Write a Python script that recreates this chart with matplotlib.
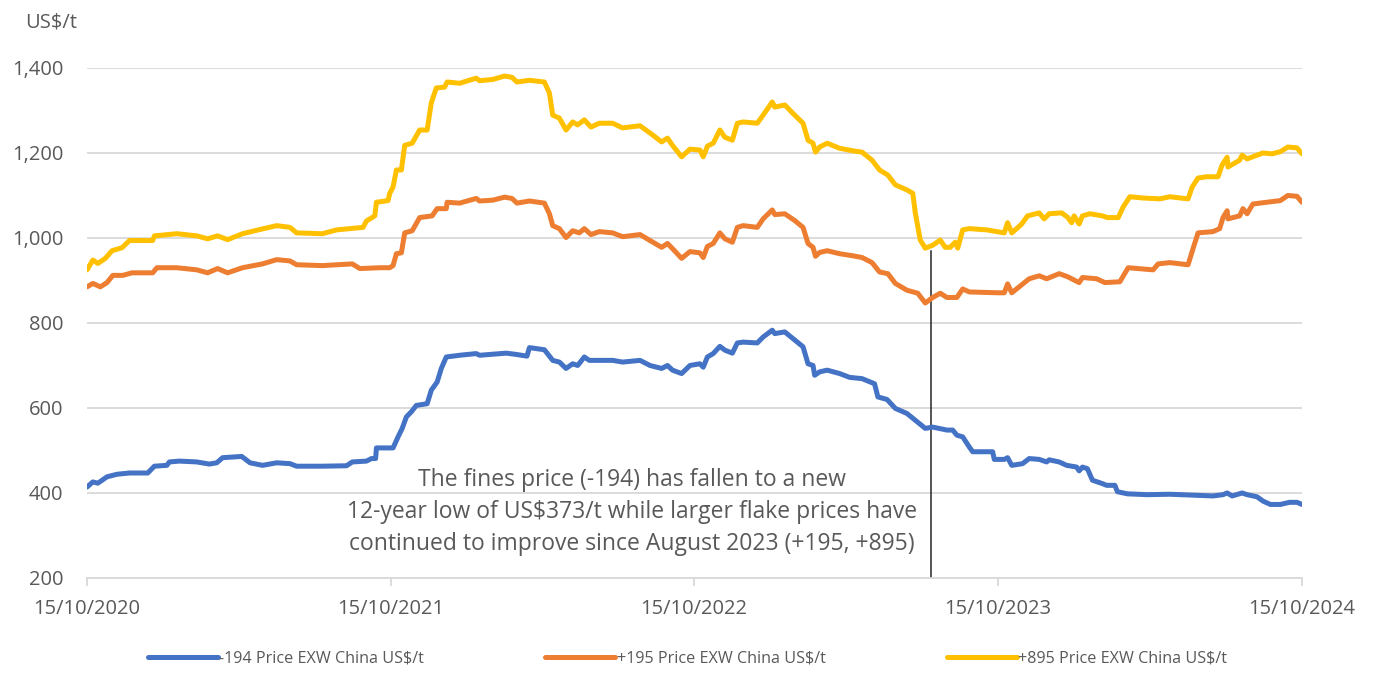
import pandas as pd
import matplotlib
matplotlib.use("Agg")
import matplotlib.pyplot as plt
import matplotlib.dates as mdates

# -194 fines price (US$/t)
fines_dates = ["2020-10-15", "2020-10-22", "2020-10-28", "2020-11-08", "2020-11-20", "2020-12-05",
               "2020-12-27", "2021-01-04", "2021-01-19", "2021-01-22", "2021-02-03", "2021-02-24",
               "2021-03-11", "2021-03-20", "2021-03-27", "2021-04-19", "2021-04-29", "2021-05-14",
               "2021-05-31", "2021-06-16", "2021-06-24", "2021-07-25", "2021-08-23", "2021-08-30",
               "2021-09-16", "2021-09-22", "2021-09-27", "2021-09-28", "2021-10-18", "2021-10-24",
               "2021-10-29", "2021-11-03", "2021-11-09", "2021-11-15", "2021-11-28", "2021-12-03",
               "2021-12-10", "2021-12-15", "2021-12-21", "2022-01-06", "2022-01-26", "2022-01-30",
               "2022-03-03", "2022-03-15", "2022-03-28", "2022-03-31", "2022-04-18", "2022-04-28",
               "2022-05-06", "2022-05-14", "2022-05-22", "2022-05-28", "2022-06-05", "2022-06-11",
               "2022-07-09", "2022-07-21", "2022-08-11", "2022-08-23", "2022-09-06", "2022-09-13",
               "2022-09-19", "2022-09-30", "2022-10-10", "2022-10-22", "2022-10-26", "2022-10-31",
               "2022-11-07", "2022-11-15", "2022-11-21", "2022-11-30", "2022-12-06", "2022-12-13",
               "2022-12-30", "2023-01-06", "2023-01-17", "2023-01-20", "2023-02-01", "2023-02-11",
               "2023-02-23", "2023-03-01", "2023-03-07", "2023-03-09", "2023-03-15", "2023-03-24",
               "2023-04-08", "2023-04-20", "2023-05-05", "2023-05-20", "2023-05-24", "2023-06-04",
               "2023-06-14", "2023-06-28", "2023-07-08", "2023-07-20", "2023-07-29", "2023-08-15",
               "2023-08-22", "2023-08-27", "2023-09-03", "2023-09-11", "2023-09-15", "2023-10-09",
               "2023-10-11", "2023-10-23", "2023-10-27", "2023-11-01", "2023-11-14", "2023-11-22",
               "2023-12-04", "2023-12-13", "2023-12-16", "2023-12-28", "2024-01-06", "2024-01-18",
               "2024-01-21", "2024-01-25", "2024-01-31", "2024-02-06", "2024-02-18", "2024-02-23",
               "2024-03-04", "2024-03-07", "2024-03-19", "2024-04-12", "2024-05-09", "2024-06-30",
               "2024-07-12", "2024-07-17", "2024-07-23", "2024-08-04", "2024-08-10", "2024-08-22",
               "2024-08-29", "2024-09-07", "2024-09-19", "2024-09-30", "2024-10-09", "2024-10-15"]
fines_price = [414, 426, 423, 438, 444, 447,
               447, 463, 465, 473, 475, 473,
               468, 471, 483, 486, 471, 465,
               471, 469, 463, 463, 464, 473,
               475, 481, 481, 506, 506, 532,
               552, 579, 591, 606, 610, 642,
               661, 693, 720, 724, 728, 724,
               729, 726, 722, 742, 737, 712,
               708, 693, 704, 700, 720, 712,
               712, 708, 712, 700, 693, 700,
               689, 681, 700, 704, 696, 720,
               728, 745, 736, 729, 753, 755,
               753, 767, 783, 775, 779, 763,
               744, 704, 700, 677, 685, 689,
               681, 672, 669, 657, 626, 620,
               599, 587, 571, 552, 555, 548,
               548, 536, 532, 508, 497, 497,
               479, 479, 483, 465, 469, 481,
               479, 473, 478, 473, 465, 461,
               452, 461, 457, 430, 422, 418,
               418, 403, 398, 396, 397, 393,
               396, 400, 393, 400, 396, 391,
               381, 373, 373, 378, 378, 373]

# +195 flake price (US$/t)
mid_dates = ["2020-10-15", "2020-10-22", "2020-10-31", "2020-11-08", "2020-11-15", "2020-11-27",
             "2020-12-08", "2021-01-02", "2021-01-07", "2021-01-31", "2021-02-24", "2021-03-09",
             "2021-03-21", "2021-04-02", "2021-04-20", "2021-05-14", "2021-05-31", "2021-06-16",
             "2021-06-24", "2021-07-25", "2021-08-30", "2021-09-08", "2021-10-02", "2021-10-14",
             "2021-10-18", "2021-10-22", "2021-10-28", "2021-11-01", "2021-11-10", "2021-11-19",
             "2021-12-04", "2021-12-10", "2021-12-21", "2021-12-22", "2022-01-06", "2022-01-26",
             "2022-01-30", "2022-02-15", "2022-03-01", "2022-03-10", "2022-03-16", "2022-03-31",
             "2022-04-18", "2022-04-24", "2022-04-28", "2022-05-06", "2022-05-14", "2022-05-22",
             "2022-05-30", "2022-06-05", "2022-06-13", "2022-06-23", "2022-07-09", "2022-07-21",
             "2022-08-11", "2022-08-23", "2022-09-06", "2022-09-13", "2022-09-19", "2022-09-30",
             "2022-10-10", "2022-10-22", "2022-10-26", "2022-10-31", "2022-11-07", "2022-11-15",
             "2022-11-21", "2022-11-30", "2022-12-06", "2022-12-13", "2022-12-30", "2023-01-06",
             "2023-01-17", "2023-01-20", "2023-02-01", "2023-02-13", "2023-02-23", "2023-03-01",
             "2023-03-07", "2023-03-10", "2023-03-15", "2023-03-24", "2023-04-08", "2023-04-24",
             "2023-05-05", "2023-05-17", "2023-05-26", "2023-06-05", "2023-06-14", "2023-06-28",
             "2023-07-11", "2023-07-20", "2023-07-29", "2023-08-07", "2023-08-15", "2023-08-27",
             "2023-09-03", "2023-09-11", "2023-10-16", "2023-10-23", "2023-10-27", "2023-11-01",
             "2023-11-13", "2023-11-22", "2023-12-04", "2023-12-13", "2023-12-28", "2024-01-07",
             "2024-01-21", "2024-01-25", "2024-02-11", "2024-02-21", "2024-03-10", "2024-03-20",
             "2024-04-19", "2024-04-25", "2024-05-09", "2024-05-31", "2024-06-06", "2024-06-12",
             "2024-06-30", "2024-07-08", "2024-07-12", "2024-07-17", "2024-07-18", "2024-08-01",
             "2024-08-05", "2024-08-10", "2024-08-17", "2024-09-03", "2024-09-19", "2024-09-28",
             "2024-10-09", "2024-10-15"]
mid_price = [885, 893, 885, 895, 912, 912,
             918, 918, 930, 930, 925, 918,
             928, 918, 930, 939, 949, 946,
             937, 935, 939, 928, 930, 930,
             935, 963, 965, 1012, 1017, 1048,
             1052, 1069, 1069, 1084, 1082, 1093,
             1087, 1089, 1096, 1093, 1082, 1087,
             1082, 1057, 1029, 1022, 1001, 1017,
             1012, 1022, 1008, 1015, 1012, 1003,
             1008, 994, 978, 987, 975, 952,
             968, 965, 954, 980, 987, 1012,
             998, 990, 1025, 1029, 1025, 1045,
             1066, 1055, 1057, 1041, 1025, 987,
             978, 957, 966, 970, 963, 958,
             954, 942, 920, 916, 893, 877,
             870, 847, 860, 870, 860, 860,
             880, 873, 871, 871, 892, 871,
             890, 904, 911, 904, 916, 909,
             895, 907, 904, 895, 897, 930,
             925, 939, 942, 937, 975, 1012,
             1015, 1022, 1048, 1064, 1045, 1052,
             1069, 1057, 1080, 1084, 1088, 1100,
             1098, 1084]

# +895 flake price (US$/t)
large_dates = ["2020-10-15", "2020-10-22", "2020-10-28", "2020-11-06", "2020-11-14", "2020-11-26",
               "2020-12-05", "2021-01-02", "2021-01-04", "2021-01-31", "2021-02-24", "2021-03-09",
               "2021-03-21", "2021-04-02", "2021-04-20", "2021-05-11", "2021-05-31", "2021-06-16",
               "2021-06-24", "2021-07-25", "2021-08-11", "2021-09-12", "2021-09-16", "2021-09-26",
               "2021-09-28", "2021-10-12", "2021-10-14", "2021-10-18", "2021-10-22", "2021-10-28",
               "2021-11-01", "2021-11-10", "2021-11-19", "2021-11-28", "2021-12-03", "2021-12-09",
               "2021-12-19", "2021-12-22", "2022-01-06", "2022-01-26", "2022-01-30", "2022-02-15",
               "2022-03-01", "2022-03-10", "2022-03-16", "2022-03-31", "2022-04-18", "2022-04-24",
               "2022-04-28", "2022-05-06", "2022-05-14", "2022-05-22", "2022-05-28", "2022-06-05",
               "2022-06-13", "2022-06-23", "2022-07-09", "2022-07-21", "2022-08-11", "2022-08-23",
               "2022-09-06", "2022-09-13", "2022-09-19", "2022-09-30", "2022-10-10", "2022-10-22",
               "2022-10-26", "2022-10-31", "2022-11-07", "2022-11-15", "2022-11-21", "2022-11-30",
               "2022-12-06", "2022-12-13", "2022-12-30", "2023-01-06", "2023-01-17", "2023-01-20",
               "2023-02-01", "2023-02-13", "2023-02-23", "2023-03-01", "2023-03-07", "2023-03-10",
               "2023-03-15", "2023-03-24", "2023-04-08", "2023-04-24", "2023-05-05", "2023-05-17",
               "2023-05-26", "2023-06-05", "2023-06-14", "2023-06-28", "2023-07-05", "2023-07-08",
               "2023-07-14", "2023-07-20", "2023-07-29", "2023-08-07", "2023-08-13", "2023-08-19",
               "2023-08-25", "2023-08-28", "2023-09-03", "2023-09-11", "2023-10-02", "2023-10-23",
               "2023-10-27", "2023-11-01", "2023-11-04", "2023-11-13", "2023-11-20", "2023-12-04",
               "2023-12-10", "2023-12-16", "2023-12-31", "2024-01-07", "2024-01-12", "2024-01-15",
               "2024-01-21", "2024-01-25", "2024-02-03", "2024-02-18", "2024-02-24", "2024-03-08",
               "2024-03-14", "2024-03-22", "2024-04-07", "2024-04-27", "2024-05-09", "2024-05-31",
               "2024-06-05", "2024-06-12", "2024-06-22", "2024-07-06", "2024-07-11", "2024-07-17",
               "2024-07-18", "2024-08-01", "2024-08-04", "2024-08-10", "2024-08-29", "2024-09-09",
               "2024-09-19", "2024-09-28", "2024-10-09", "2024-10-15"]
large_price = [925, 948, 940, 952, 970, 977,
               994, 994, 1005, 1010, 1005, 998,
               1005, 996, 1010, 1020, 1029, 1025,
               1012, 1010, 1019, 1025, 1040, 1052,
               1084, 1088, 1105, 1120, 1160, 1160,
               1218, 1223, 1254, 1254, 1318, 1353,
               1355, 1367, 1364, 1376, 1370, 1373,
               1381, 1378, 1367, 1371, 1367, 1341,
               1289, 1282, 1254, 1273, 1266, 1278,
               1261, 1270, 1270, 1259, 1264, 1247,
               1226, 1235, 1218, 1191, 1209, 1207,
               1191, 1216, 1223, 1254, 1237, 1230,
               1270, 1273, 1270, 1289, 1320, 1308,
               1313, 1289, 1270, 1230, 1223, 1202,
               1214, 1223, 1211, 1205, 1202, 1183,
               1160, 1148, 1125, 1113, 1105, 1059,
               995, 976, 983, 995, 978, 978,
               990, 976, 1019, 1022, 1019, 1012,
               1036, 1012, 1017, 1033, 1052, 1059,
               1045, 1057, 1059, 1049, 1036, 1052,
               1033, 1052, 1057, 1052, 1048, 1048,
               1073, 1097, 1094, 1092, 1097, 1092,
               1120, 1141, 1144, 1144, 1172, 1190,
               1167, 1183, 1195, 1186, 1200, 1198,
               1203, 1214, 1212, 1198]

series_labels = ["-194 Price EXW China US$/t", "+195 Price EXW China US$/t", "+895 Price EXW China US$/t"]
series_colors = ["#4472C4", "#ED7D31", "#FFC000"]
tick_dates = ["2020-10-15", "2021-10-15", "2022-10-15", "2023-10-15", "2024-10-15"]
marker_date = "2023-07-27"
marker_top = 970
note_text = ("The fines price (-194) has fallen to a new\n"
             "12-year low of US$373/t while larger flake prices have\n"
             "continued to improve since August 2023 (+195, +895)")

plt.rcParams["font.family"] = ["Open Sans", "DejaVu Sans"]
grey = "#595959"

fig = plt.figure(figsize=(13.75, 6.73), dpi=100)
ax = fig.add_axes([0.0633, 0.1412, 0.8836, 0.7578])

all_dates = [fines_dates, mid_dates, large_dates]
all_prices = [fines_price, mid_price, large_price]
for d, p, lab, col in zip(all_dates, all_prices, series_labels, series_colors):
    ax.plot(pd.to_datetime(d), p, color=col, linewidth=3.6, label=lab,
            solid_joinstyle="round", solid_capstyle="round")

# annotation line and text
ax.plot([pd.Timestamp(marker_date)] * 2, [200, marker_top], color="#262626", linewidth=1.1, zorder=1)
ax.text(pd.Timestamp("2022-08-01"), 251, note_text, ha="center", va="bottom",
        fontsize=16.5, color=grey, linespacing=1.45)

ax.set_xlim(pd.Timestamp(tick_dates[0]), pd.Timestamp(tick_dates[-1]))
ax.set_ylim(200, 1400)
ax.set_yticks(range(200, 1401, 200))
ax.yaxis.set_major_formatter(matplotlib.ticker.FuncFormatter(lambda v, _: f"{int(v):,}"))
ax.set_xticks(pd.to_datetime(tick_dates))
ax.xaxis.set_major_formatter(mdates.DateFormatter("%d/%m/%Y"))

ax.grid(axis="y", color="#D9D9D9", linewidth=1.3)
ax.set_axisbelow(True)
for s in ["top", "right", "left"]:
    ax.spines[s].set_visible(False)
ax.spines["bottom"].set_color("#D9D9D9")
ax.spines["bottom"].set_linewidth(1.3)
ax.tick_params(axis="y", length=0, labelsize=14.5, labelcolor=grey, pad=17)
ax.tick_params(axis="x", length=6, width=1.3, color="#D9D9D9", labelsize=14.5, labelcolor=grey, pad=9)

fig.text(0.018, 0.967, "US$/t", fontsize=14.5, color=grey, ha="left", va="center")

leg = fig.legend(loc="center", bbox_to_anchor=(0.5, 0.022), ncol=3, frameon=False,
                 fontsize=11.6, handlelength=4.35, handletextpad=0.1, columnspacing=7.5)
for t in leg.get_texts():
    t.set_color(grey)

fig.savefig("out.png", dpi=100)
